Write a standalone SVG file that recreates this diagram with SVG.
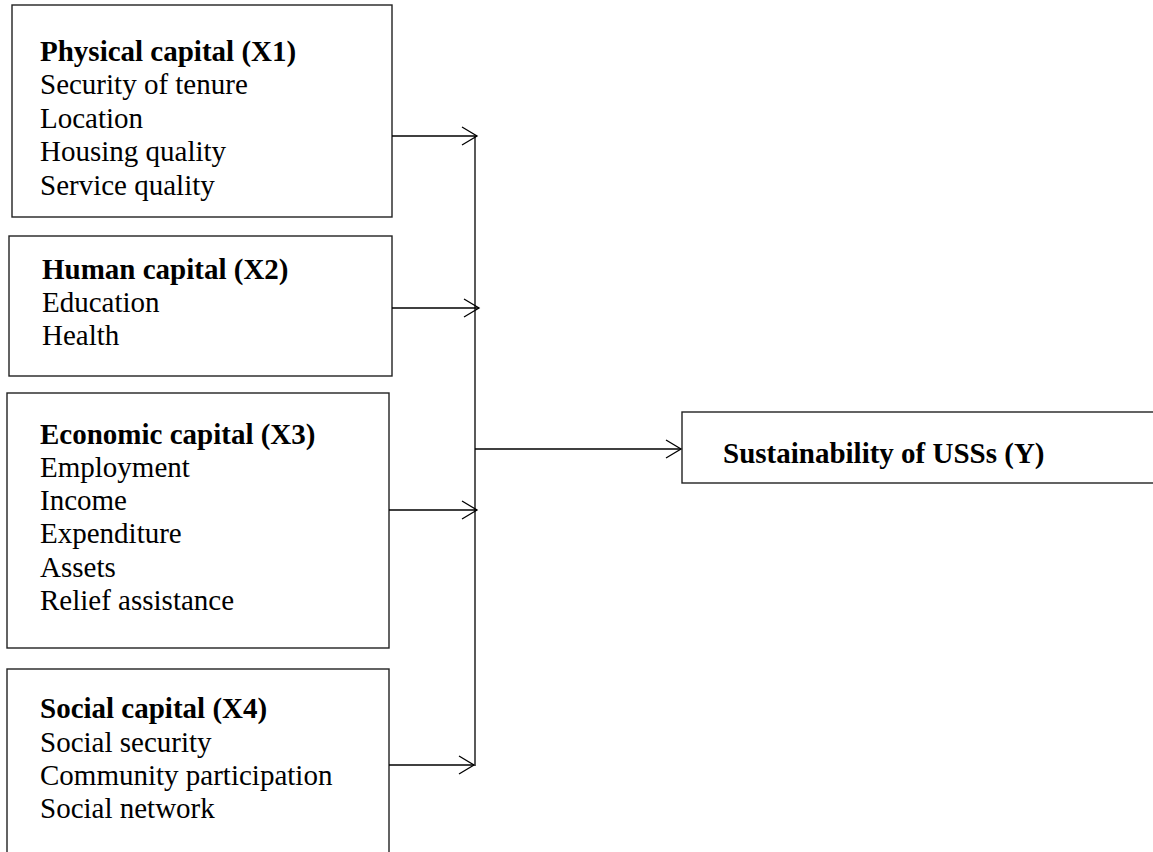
<svg xmlns="http://www.w3.org/2000/svg" width="1153" height="852" viewBox="0 0 1153 852">
  <style>
    .box { fill: #fff; stroke: #222; stroke-width: 1.4; }
    .t { font-family: "Liberation Serif", "Times New Roman", serif; font-size: 29px; fill: #000; }
    .b { font-weight: bold; }
    .c { fill: none; stroke: #000; stroke-width: 1.3; }
  </style>
  <defs>
    <marker id="arr" markerUnits="userSpaceOnUse" markerWidth="20" markerHeight="22" viewBox="-17 -11 20 22" refX="0" refY="0" orient="auto">
      <path d="M-15,-9 L0,0 L-15,9" fill="none" stroke="#000" stroke-width="1.3"/>
    </marker>
  </defs>
  <rect width="1153" height="852" fill="#fff"/>

  <g id="x1">
    <rect class="box" x="12" y="5" width="380" height="212"/>
    <text class="t b" x="40" y="61">Physical capital (X1)</text>
    <text class="t" x="40" y="94">Security of tenure</text>
    <text class="t" x="40" y="128">Location</text>
    <text class="t" x="40" y="161">Housing quality</text>
    <text class="t" x="40" y="195">Service quality</text>
  </g>

  <g id="x2">
    <rect class="box" x="9" y="236" width="383" height="140"/>
    <text class="t b" x="42" y="279">Human capital (X2)</text>
    <text class="t" x="42" y="312">Education</text>
    <text class="t" x="42" y="345">Health</text>
  </g>

  <g id="x3">
    <rect class="box" x="7" y="393" width="382" height="255"/>
    <text class="t b" x="40" y="444">Economic capital (X3)</text>
    <text class="t" x="40" y="477">Employment</text>
    <text class="t" x="40" y="510">Income</text>
    <text class="t" x="40" y="543">Expenditure</text>
    <text class="t" x="40" y="577">Assets</text>
    <text class="t" x="40" y="610">Relief assistance</text>
  </g>

  <g id="x4">
    <rect class="box" x="7" y="669" width="382" height="200"/>
    <text class="t b" x="40" y="718">Social capital (X4)</text>
    <text class="t" x="40" y="752">Social security</text>
    <text class="t" x="40" y="785">Community participation</text>
    <text class="t" x="40" y="818">Social network</text>
  </g>

  <g id="y">
    <rect class="box" x="682" y="412" width="490" height="71"/>
    <text class="t b" x="723" y="463">Sustainability of USSs (Y)</text>
  </g>

  <g id="connectors">
    <line class="c" x1="392" y1="136" x2="477" y2="136" marker-end="url(#arr)"/>
    <line class="c" x1="392" y1="308" x2="479" y2="308" marker-end="url(#arr)"/>
    <line class="c" x1="389" y1="510" x2="477" y2="510" marker-end="url(#arr)"/>
    <line class="c" x1="389" y1="765" x2="474" y2="765" marker-end="url(#arr)"/>
    <line class="c" x1="475" y1="136" x2="475" y2="766"/>
    <line class="c" x1="475" y1="449" x2="681" y2="449" marker-end="url(#arr)"/>
  </g>
</svg>
